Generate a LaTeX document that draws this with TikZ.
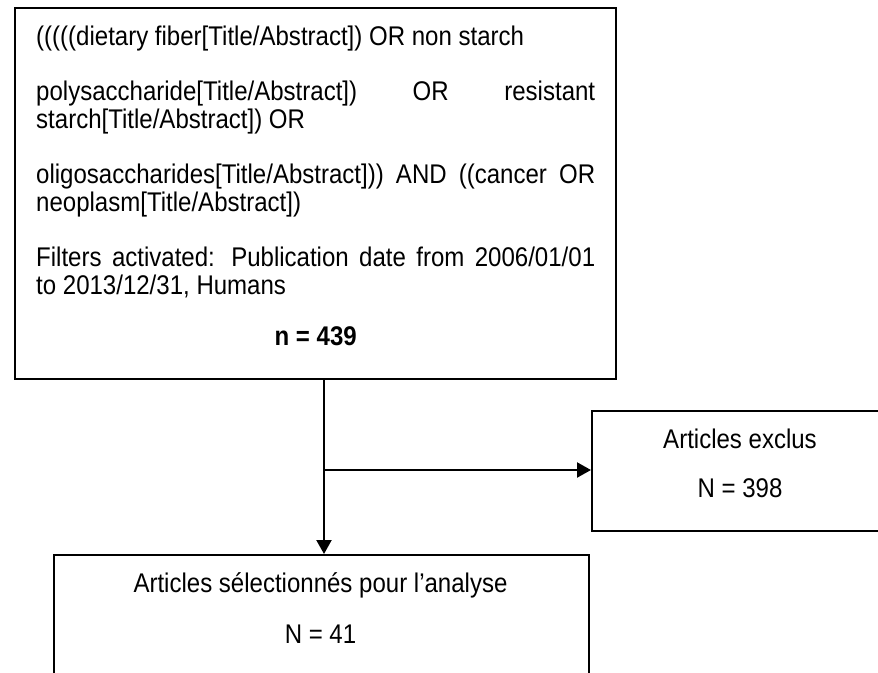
\documentclass[tikz,border=0pt]{standalone}
\usepackage{fontspec}
\setmainfont{Liberation Sans}[FakeStretch=0.89]
\usetikzlibrary{positioning,arrows.meta}
\setlength{\parindent}{0pt}
\tolerance=10000
\hyphenpenalty=10000

\tikzset{
  box/.style={draw, line width=2pt, inner sep=0pt, anchor=north west},
  lbl/.style={inner sep=0pt, anchor=base, font=\fontsize{27}{28}\selectfont},
  flow/.style={line width=2.2pt, -{Triangle[length=14pt,width=15pt]}},
}

\begin{document}
\begin{tikzpicture}[x=1pt,y=1pt]
\useasboundingbox (0,0) rectangle (878,-672);
\clip (0,0) rectangle (878,-672);
% boxes
\node[box, minimum width=601pt, minimum height=371pt] (query) at (14,-7) {};
\node[box, minimum width=298pt, minimum height=120pt] (excl) at (591,-410) {};
\node[box, minimum width=535pt, minimum height=140pt] (sel) at (53,-554) {};
% search query
\node[anchor=north west, inner sep=0pt, text width=559pt, align=justify,
      font=\fontsize{27}{28}\selectfont]
  (querytxt) at (36,-25.3) {%
  (((((dietary fiber[Title/Abstract]) OR non starch\\[27pt]
  polysaccharide[Title/Abstract]) OR resistant\linebreak
  starch[Title/Abstract]) OR\\[27pt]
  oligosaccharides[Title/Abstract])) AND ((cancer OR\linebreak
  neoplasm[Title/Abstract])\\[27pt]
  Filters activated: Publication date from 2006/01/01\linebreak
  to 2013/12/31, Humans\\[23pt]
  \makebox[\linewidth]{\textbf{n = 439}}};
% labels
\node[lbl] (excltxt) at (740,-448) {Articles exclus};
\node[lbl] (exclnum) at (740,-497) {N = 398};
\node[lbl] (seltxt) at (320.5,-592) {Articles sélectionnés pour l’analyse};
\node[lbl] (selnum) at (320.5,-643) {N = 41};
% arrows
\coordinate (qout) at (324,-378);
\coordinate (fork) at (324,-470);
\draw[flow] (qout) -- (qout |- sel.north);
\draw[flow] (fork) -- (fork -| excl.west);
\end{tikzpicture}
\end{document}
